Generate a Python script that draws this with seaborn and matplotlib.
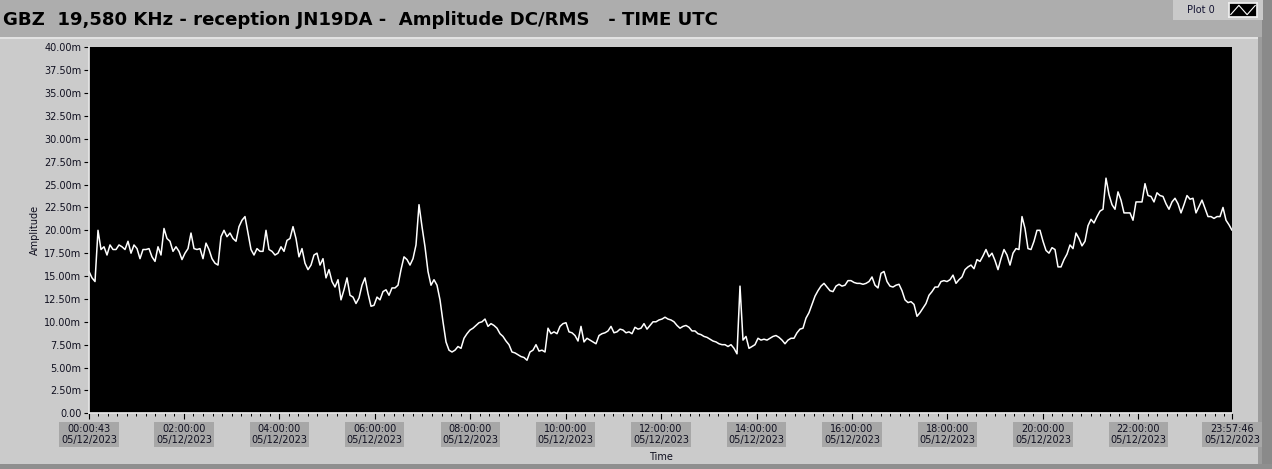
import numpy as np
import pandas as pd
import matplotlib
matplotlib.use("Agg")
import matplotlib.pyplot as plt
import seaborn as sns
from matplotlib.patches import Rectangle
from matplotlib.ticker import FixedLocator, MultipleLocator, FuncFormatter

# amplitude readings (mV), one every ~3.8 min, split by part of the day
amp_night = [
    15.5, 14.8, 14.4, 20.0, 17.9, 18.2, 17.3, 18.4, 17.9, 17.9,
    18.4, 18.2, 17.9, 18.8, 17.5, 18.4, 18.0, 16.9, 17.9, 17.9,
    18.0, 17.1, 16.6, 18.2, 17.3, 20.2, 19.1, 18.8, 17.7, 18.2,
    17.7, 16.8, 17.5, 18.0, 19.7, 18.0, 17.9, 18.0, 16.9, 18.6,
    17.9, 16.9, 16.4, 16.2, 19.3, 20.0, 19.3, 19.7, 19.1, 18.8,
    20.4, 21.1, 21.5, 19.7, 17.9, 17.3, 18.0, 17.7, 17.7, 20.0,
    17.9, 17.7, 17.3, 17.5, 18.2, 17.7, 18.9, 19.1, 20.4, 19.1,
    17.1, 18.0, 16.4, 15.7, 16.2, 17.3,
]
amp_sunrise = [
    17.5, 16.2, 16.9, 14.8, 15.7, 14.4, 13.8, 14.6, 12.4, 13.5,
    14.8, 12.9, 12.7, 12.0, 12.6, 14.0, 14.8, 13.1, 11.7, 11.8,
    12.7, 12.4, 13.3, 13.5, 12.9, 13.7, 13.7, 14.0, 15.7, 17.1,
    16.8, 16.2, 16.9, 18.4, 22.8, 20.4, 18.2, 15.5, 14.0, 14.6,
    14.0, 12.4, 10.0, 7.8, 6.9, 6.7, 6.9, 7.3, 7.1, 8.2,
    8.7, 9.1, 9.3, 9.6, 9.9, 10.0, 10.3, 9.5, 9.8, 9.6,
    9.3, 8.7, 8.4, 7.9, 7.5, 6.7, 6.6, 6.4, 6.2, 6.1,
    5.8, 6.7, 6.9, 7.5, 6.8, 6.9,
]
amp_midday = [
    6.7, 9.3, 8.7, 8.9, 8.7, 9.5, 9.8, 9.9, 8.9, 8.8,
    8.5, 7.9, 9.5, 7.8, 8.2, 8.0, 7.8, 7.6, 8.5, 8.7,
    8.8, 9.0, 9.5, 8.8, 8.9, 9.2, 9.1, 8.8, 8.9, 8.7,
    9.4, 9.2, 9.3, 9.8, 9.2, 9.6, 10.0, 10.0, 10.2, 10.3,
    10.5, 10.3, 10.2, 10.0, 9.6, 9.3, 9.5, 9.6, 9.4, 9.0,
    9.0, 8.7, 8.6, 8.4, 8.3, 8.1, 7.9, 7.8, 7.6, 7.5,
    7.5, 7.3, 7.5, 7.1, 6.5, 13.9, 8.0, 8.4, 7.1, 7.3,
    7.5, 8.2, 8.0, 8.1, 8.0, 8.2, 8.4,
]
amp_afternoon = [
    8.5, 8.3, 8.0, 7.6, 8.0, 8.2, 8.2, 8.8, 9.2, 9.3,
    10.4, 11.0, 11.9, 12.8, 13.4, 13.9, 14.2, 13.8, 13.4, 13.3,
    13.9, 14.1, 13.9, 14.0, 14.5, 14.5, 14.3, 14.2, 14.2, 14.1,
    14.2, 14.4, 14.9, 14.0, 13.7, 15.3, 15.5, 14.4, 13.9, 13.8,
    14.0, 14.1, 13.4, 12.4, 12.1, 12.2, 11.9, 10.6, 11.0, 11.5,
    12.0, 12.9, 13.3, 13.8, 13.8, 14.4, 14.5, 14.4, 14.6, 15.1,
    14.2, 14.6, 14.9, 15.7, 16.0, 16.2, 15.8, 16.8, 16.6, 17.2,
    17.9, 17.1, 17.5, 16.7, 15.7, 16.9, 17.9,
]
amp_evening = [
    17.3, 16.2, 17.5, 18.0, 17.9, 21.5, 20.2, 18.0, 17.9, 18.8,
    20.0, 20.0, 18.8, 17.8, 17.5, 18.1, 17.9, 16.0, 16.0, 16.8,
    17.4, 18.4, 18.0, 19.7, 19.1, 18.3, 18.8, 20.5, 21.2, 20.8,
    21.5, 22.1, 22.3, 25.7, 23.9, 22.8, 22.3, 24.2, 23.3, 21.9,
    21.9, 21.9, 21.1, 23.1, 23.1, 23.1, 25.1, 23.8, 23.7, 23.1,
    24.1, 23.8, 23.7, 22.9, 22.3, 23.1, 23.5, 22.9, 21.9, 22.8,
    23.8, 23.4, 23.5, 21.9, 22.6, 23.3, 22.4, 21.5, 21.5, 21.3,
    21.5, 21.5, 22.5, 21.1, 20.6, 20.0,
]

tick_times = ["00:00:43", "02:00:00", "04:00:00", "06:00:00", "08:00:00",
              "10:00:00", "12:00:00", "14:00:00", "16:00:00", "18:00:00",
              "20:00:00", "22:00:00", "23:57:46"]
tick_date = "05/12/2023"

title = "GBZ  19,580 KHz - reception JN19DA -  Amplitude DC/RMS   - TIME UTC"


def to_hours(s):
    h, m, sec = (int(p) for p in s.split(":"))
    return h + m / 60 + sec / 3600


amp = amp_night + amp_sunrise + amp_midday + amp_afternoon + amp_evening
tick_pos = [to_hours(t) for t in tick_times]
hours = np.linspace(tick_pos[0], tick_pos[-1], len(amp))
df = pd.DataFrame({"hours": hours, "amp": amp})

sns.set_theme(style="ticks")
plt.rcParams["font.family"] = ["DejaVu Sans"]

W, H = 1272, 469
fig = plt.figure(figsize=(W / 100, H / 100), dpi=100, facecolor="#adadad")


def px_rect(x, y, w, h, color):
    # rectangle given in pixels from top-left corner, kept behind the axes
    fig.patches.append(Rectangle((x / W, 1 - (y + h) / H), w / W, h / H,
                                 transform=fig.transFigure, facecolor=color,
                                 edgecolor="none", zorder=-5))


# panel frame
px_rect(0, 37, 1262, 428, "#cbcbcb")
px_rect(0, 37, 1262, 2, "#e2e2e2")
px_rect(1258, 37, 14, 432, "#9c9c9c")
px_rect(1262, 0, 10, 469, "#8a8a8a")
px_rect(0, 464, 1272, 5, "#8f8f8f")
# legend box
px_rect(1173, 0, 90, 20, "#c9c9c9")
fig.text(1201 / W, 1 - 10 / H, "Plot 0", fontsize=7, color="#141432",
         ha="center", va="center")
icon = fig.add_axes([1229 / W, 1 - 17 / H, 28 / W, 14 / H])
icon.set_facecolor("black")
icon.plot([0, 1, 2, 3], [0.1, 0.9, 0.1, 0.9], color="white", lw=0.8)
icon.set_xlim(-0.2, 3.2)
icon.set_ylim(-0.1, 1.1)
icon.set_xticks([])
icon.set_yticks([])
for s in icon.spines.values():
    s.set_color("#f0f0f0")

fig.text(3 / W, 1 - 20 / H, title, fontsize=13.1, fontweight="bold",
         color="black", ha="left", va="center")

ax = fig.add_axes([89 / W, 1 - 413.3 / H, 1143 / W, 366 / H])
ax.set_facecolor("black")
sns.lineplot(data=df, x="hours", y="amp", color="white", linewidth=1.1,
             ax=ax, legend=False)

ax.set_xlim(tick_pos[0], tick_pos[-1])
ax.set_ylim(0, 40)
ax.yaxis.set_major_locator(MultipleLocator(2.5))
ax.yaxis.set_major_formatter(FuncFormatter(
    lambda v, p: "0.00" if v == 0 else f"{v:.2f}m"))
ax.xaxis.set_major_locator(FixedLocator(tick_pos))
ax.set_xticklabels([f"{t}\n{tick_date}" for t in tick_times])
ax.xaxis.set_minor_locator(MultipleLocator(0.2))

ax.tick_params(axis="y", direction="out", length=3.5, width=0.8,
               colors="black", labelsize=7, pad=2, labelcolor="#101020")
ax.tick_params(axis="x", which="major", direction="out", length=4.5,
               width=0.8, colors="black", labelsize=7, pad=3,
               labelcolor="#101020")
ax.tick_params(axis="x", which="minor", direction="out", length=2.5,
               width=0.7, colors="black")
for lab in ax.get_xticklabels():
    lab.set_linespacing(1.15)
    lab.set_bbox(dict(facecolor="#a7a7a7", edgecolor="none", pad=1.2))

for side in ("top", "right"):
    ax.spines[side].set_visible(False)
ax.spines["left"].set_color("#e6e6e6")
ax.spines["bottom"].set_color("#e6e6e6")

ax.set_xlabel("Time", fontsize=7, color="#101020", labelpad=5)
ax.set_ylabel("Amplitude", fontsize=7, color="#101020", labelpad=3)

fig.savefig("out.png", dpi=100, facecolor=fig.get_facecolor())
